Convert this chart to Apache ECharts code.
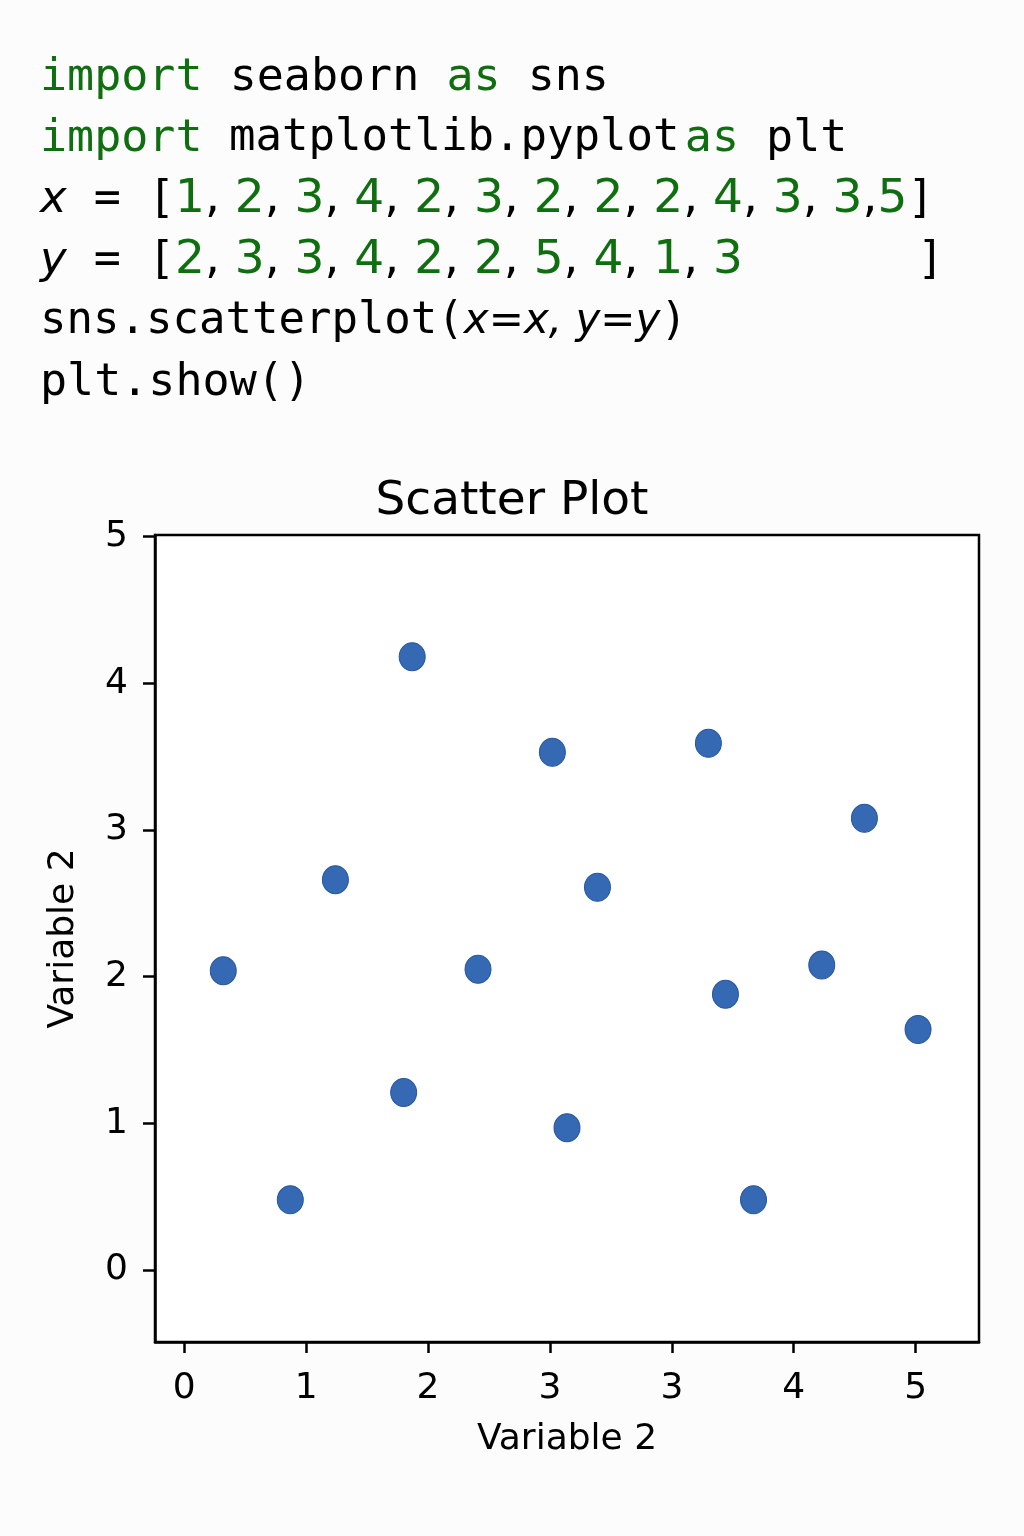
<!DOCTYPE html>
<html>
<head>
<meta charset="utf-8">
<script src="https://cdn.jsdelivr.net/npm/echarts@6/dist/echarts.min.js"></script>
<style>
html,body{margin:0;padding:0;background:#fcfcfc;}
#chart{width:1024px;height:1536px;}
</style>
</head>
<body>
<div id="chart"></div>
<script>
// ---- data ----
var xTickLabels = ['0', '1', '2', '3', '3', '4', '5'];
var xTickPos = [0, 1, 2, 3, 4, 5, 6];
var yTickVals = [0, 1, 2, 3, 4, 5];
var xPos = [0.32, 0.87, 1.24, 1.80, 1.87, 2.41, 3.02, 3.14, 3.39, 4.30, 4.44, 4.67, 5.23, 5.58, 6.02];
var yVal = [2.04, 0.48, 2.66, 1.21, 4.18, 2.05, 3.53, 0.97, 2.61, 3.59, 1.88, 0.48, 2.08, 3.08, 1.64];
var codeX = [1, 2, 3, 4, 2, 3, 2, 2, 2, 4, 3, 3, 5];
var codeY = [2, 3, 3, 4, 2, 2, 5, 4, 1, 3];
var chartTitle = 'Scatter Plot';
var xName = 'Variable 2';
var yName = 'Variable 2';

var GREEN = '#0f6e0f';
var MONO = '"DejaVu Sans Mono", monospace';
var SANS = '"DejaVu Sans", sans-serif';

var rich = {
  kw: {fontFamily: MONO, fontSize: 45, fill: GREEN},
  t: {fontFamily: MONO, fontSize: 45, fill: '#000'},
  t2: {fontFamily: MONO, fontSize: 44, fill: '#000'},
  it: {fontFamily: SANS, fontSize: 45, fontStyle: 'italic', fill: '#000'},
  it2: {fontFamily: SANS, fontSize: 42, fontStyle: 'italic', fill: '#000'},
  n: {fontFamily: SANS, fontSize: 47, fill: GREEN},
  c: {fontFamily: SANS, fontSize: 47, fill: '#000'},
  sp: {fontFamily: MONO, fontSize: 9, fill: '#000'},
  gap: {fontFamily: SANS, fontSize: 47, width: 174, fill: '#000'}
};

function numList(arr, tightLast) {
  var s = '';
  for (var i = 0; i < arr.length; i++) {
    s += '{n|' + arr[i] + '}';
    if (i < arr.length - 1) {
      if (tightLast && i === arr.length - 2) s += '{c|,}';
      else s += '{c|, }';
    }
  }
  return s;
}

var codeLines = [
  '{kw|import}{t| seaborn }{kw|as}{t| sns}',
  '{kw|import}{t2| matplotlib.pyplot}{sp| }{kw|as}{t| plt}',
  '{it|x}{t| = [}' + numList(codeX, true) + '{t|]}',
  '{it|y}{t| = [}' + numList(codeY, false) + '{gap| }{t|]}',
  '{t2|sns.scatterplot(}{it2|x=x, y=y}{t|)}',
  '{t|plt.show()}'
];
var lineY = [78, 139, 200, 261, 322, 383];

var graphics = codeLines.map(function (txt, i) {
  return {
    type: 'text',
    x: 40,
    y: lineY[i],
    style: {
      text: txt,
      rich: rich,
      fill: '#000',
      verticalAlign: 'middle',
      align: 'left'
    }
  };
});

var axisLineStyle = {color: '#000', width: 2.5};

var chart = echarts.init(document.getElementById('chart'));
chart.setOption({
  backgroundColor: '#fcfcfc',
  animation: false,
  textStyle: {fontFamily: SANS},
  title: {
    text: chartTitle,
    left: 'center',
    top: 473,
    textStyle: {fontFamily: SANS, fontSize: 47, fontWeight: 'normal', color: '#000'}
  },
  graphic: graphics,
  grid: {
    left: 155, top: 535, right: 45, bottom: 194,
    show: true, backgroundColor: '#ffffff', borderColor: '#000', borderWidth: 2.5
  },
  xAxis: [{
    type: 'value',
    min: -0.24, max: 6.52,
    name: xName,
    nameLocation: 'middle',
    nameGap: 80,
    nameTextStyle: {fontFamily: SANS, fontSize: 36, color: '#000'},
    axisLine: {show: true, onZero: false, lineStyle: axisLineStyle},
    axisTick: {show: true, inside: false, length: 11, customValues: xTickPos, lineStyle: axisLineStyle},
    axisLabel: {
      customValues: xTickPos,
      fontFamily: SANS, fontSize: 36, color: '#000', margin: 29,
      formatter: function (v) { return xTickLabels[Math.round(v)]; }
    },
    splitLine: {show: false}
  }],
  yAxis: [{
    type: 'value',
    min: -0.49, max: 5.01,
    name: yName,
    nameLocation: 'middle',
    nameGap: 73,
    nameTextStyle: {fontFamily: SANS, fontSize: 36, color: '#000'},
    axisLine: {show: true, onZero: false, lineStyle: axisLineStyle},
    axisTick: {show: true, inside: false, length: 12, customValues: yTickVals, lineStyle: axisLineStyle},
    axisLabel: {
      customValues: yTickVals,
      fontFamily: SANS, fontSize: 36, color: '#000', margin: 27,
      formatter: function (v) { return String(Math.round(v)); }
    },
    splitLine: {show: false}
  }],
  series: [{
    type: 'scatter',
    data: xPos.map(function (x, i) { return [x, yVal[i]]; }),
    symbol: 'circle',
    symbolSize: [26, 28],
    itemStyle: {color: '#3669b4', borderColor: '#2454a0', borderWidth: 1, opacity: 1}
  }]
});
</script>
</body>
</html>
